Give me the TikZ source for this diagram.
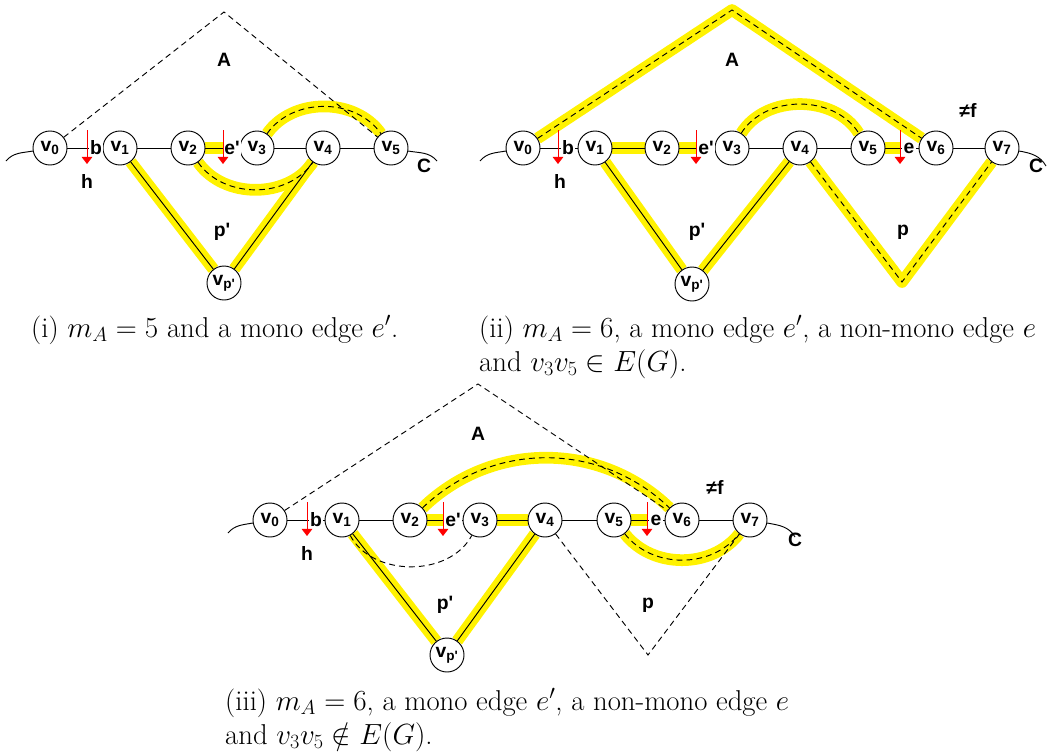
\documentclass[tikz,border=0pt]{standalone}
\usepackage{amsmath,amssymb}
\usepackage{fontspec}
\usepackage{tikz}
\newfontfamily\labfont{Liberation Sans}
\usetikzlibrary{arrows.meta, calc}
\pgfdeclarelayer{hilite}
\pgfdeclarelayer{edges}
\pgfsetlayers{hilite,edges,main}

\begin{document}
\begin{tikzpicture}[
  x=0.03cm, y=-0.03cm,
  vtx/.style={circle, draw, line width=0.8pt, fill=white, inner sep=0pt,
              minimum size=1.02cm, font={\labfont\fontsize{16.5}{19}\selectfont\bfseries}},
  lbl/.style={inner sep=1pt, font={\labfont\fontsize{16.5}{19}\selectfont\bfseries}},
  lblw/.style={lbl, fill=white},
  edge/.style={line width=0.8pt},
  dedge/.style={line width=0.8pt, dash pattern=on 5pt off 3.5pt},
  hl/.style={line width=10pt, yellow, line join=round},
  redarr/.style={red, line width=0.8pt, -{Triangle[width=9pt,length=6pt]}},
  captxt/.style={inner sep=0pt, anchor=base west, font={\fontsize{24.5}{29}\selectfont}}
]
  \useasboundingbox (0,0) rectangle (1047,755);

  % (i)
  \node[vtx] (a0) at (50,148)  {v\textsubscript{0}};
  \node[vtx] (a1) at (120,148) {v\textsubscript{1}};
  \node[vtx] (a2) at (188,148) {v\textsubscript{2}};
  \node[vtx] (a3) at (257,148) {v\textsubscript{3}};
  \node[vtx] (a4) at (323,148) {v\textsubscript{4}};
  \node[vtx] (a5) at (391,148) {v\textsubscript{5}};
  \node[vtx] (ap) at (224,283) {v\textsubscript{p'}};
  \coordinate (aA) at (224,12);
  \coordinate (ab) at (87,148);
  \coordinate (ae) at (223,148);
  \coordinate (aCl) at (6,161);
  \coordinate (aCr) at (437,161);
  \node[lbl] (aAl) at (224,60) {A};
  \node[lbl] (aCt) at (424,166) {C};
  \node[lbl] (ah) at (87,181) {h};
  \node[lbl] (app) at (222,232) {p'};

  \begin{pgfonlayer}{hilite}
    \draw[hl] (a2) -- (ae);
    \draw[hl] (a1) -- (ap) -- (a4);
    \draw[hl] (a2) to[bend right=55] (a4);
    \draw[hl] (a3) to[bend left=55] (a5);
  \end{pgfonlayer}
  \begin{pgfonlayer}{edges}
    \draw[edge] (a0) -- (a1) -- (a2) -- (a3) -- (a4) -- (a5);
    \draw[edge] (a1) -- (ap) -- (a4);
    \draw[edge] (aCl) to[out=50,in=190] (a0);
    \draw[edge] (a5) to[out=-10,in=130] (aCr);
    \draw[dedge] (a0) -- (aA) -- (a5);
    \draw[dedge] (a2) to[bend right=55] (a4);
    \draw[dedge] (a3) to[bend left=55] (a5);
  \end{pgfonlayer}
  \node[lblw] (abl) at (96,148) {b};
  \node[lblw] (ael) at (232,148) {e'};
  \draw[redarr] (ab) ++(0,-18) -- ++(0,34);
  \draw[redarr] (ae) ++(0,-18) -- ++(0,34);

  % (ii)
  \node[vtx] (b0) at (523,148)  {v\textsubscript{0}};
  \node[vtx] (b1) at (595,148)  {v\textsubscript{1}};
  \node[vtx] (b2) at (662,148)  {v\textsubscript{2}};
  \node[vtx] (b3) at (732,148)  {v\textsubscript{3}};
  \node[vtx] (b4) at (800,148)  {v\textsubscript{4}};
  \node[vtx] (b5) at (868,148)  {v\textsubscript{5}};
  \node[vtx] (b6) at (936,148)  {v\textsubscript{6}};
  \node[vtx] (b7) at (1002,148) {v\textsubscript{7}};
  \node[vtx] (bp) at (692,284)  {v\textsubscript{p'}};
  \coordinate (bA) at (732,10);
  \coordinate (bq) at (902,282);
  \coordinate (bb) at (558,148);
  \coordinate (be1) at (696,148);
  \coordinate (be) at (900,148);
  \coordinate (bCl) at (480,161);
  \coordinate (bCr) at (1046,166);
  \node[lbl] (bAl) at (732,60) {A};
  \node[lbl] (bCt) at (1036,166) {C};
  \node[lbl] (bh) at (560,181) {h};
  \node[lbl] (bpp) at (697,232) {p'};
  \node[lbl] (bpl) at (903,232) {p};
  \node[lbl] (bf) at (968,110) {≠f};

  \begin{pgfonlayer}{hilite}
    \draw[hl] (b1) -- (b2) -- (be1);
    \draw[hl] (b5) -- (be);
    \draw[hl] (b1) -- (bp) -- (b4);
    \draw[hl] (b4) -- (bq) -- (b7);
    \draw[hl] (b0) -- (bA) -- (b6);
    \draw[hl] (b3) to[bend left=58] (b5);
  \end{pgfonlayer}
  \begin{pgfonlayer}{edges}
    \draw[edge] (b0) -- (b1) -- (b2) -- (b3) -- (b4) -- (b5) -- (b6) -- (b7);
    \draw[edge] (b1) -- (bp) -- (b4);
    \draw[edge] (bCl) to[out=50,in=190] (b0);
    \draw[edge] (b7) to[out=-10,in=120] (bCr);
    \draw[dedge] (b0) -- (bA) -- (b6);
    \draw[dedge] (b4) -- (bq) -- (b7);
    \draw[dedge] (b3) to[bend left=58] (b5);
  \end{pgfonlayer}
  \node[lblw] (bbl) at (568,148) {b};
  \node[lblw] (bel1) at (706,148) {e'};
  \node[lblw] (bel) at (909,148) {e};
  \draw[redarr] (bb) ++(0,-18) -- ++(0,34);
  \draw[redarr] (be1) ++(0,-18) -- ++(0,34);
  \draw[redarr] (be) ++(0,-18) -- ++(0,34);

  % (iii)
  \node[vtx] (c0) at (270,520) {v\textsubscript{0}};
  \node[vtx] (c1) at (342,520) {v\textsubscript{1}};
  \node[vtx] (c2) at (410,520) {v\textsubscript{2}};
  \node[vtx] (c3) at (480,520) {v\textsubscript{3}};
  \node[vtx] (c4) at (545,520) {v\textsubscript{4}};
  \node[vtx] (c5) at (614,520) {v\textsubscript{5}};
  \node[vtx] (c6) at (682,520) {v\textsubscript{6}};
  \node[vtx] (c7) at (750,520) {v\textsubscript{7}};
  \node[vtx] (cp) at (447,655) {v\textsubscript{p'}};
  \coordinate (cA) at (478,384);
  \coordinate (cq) at (648,655);
  \coordinate (cb) at (307,520);
  \coordinate (ce1) at (443,520);
  \coordinate (ce) at (647,520);
  \coordinate (cCl) at (228,533);
  \coordinate (cCr) at (795,537);
  \node[lbl] (cAl) at (478,434) {A};
  \node[lbl] (cCt) at (795,540) {C};
  \node[lbl] (ch) at (307,553) {h};
  \node[lbl] (cpp) at (445,605) {p'};
  \node[lbl] (cpl) at (648,605) {p};
  \node[lbl] (cf) at (715,487) {≠f};

  \begin{pgfonlayer}{hilite}
    \draw[hl] (c2) -- (ce1);
    \draw[hl] (c3) -- (c4);
    \draw[hl] (c5) -- (ce);
    \draw[hl] (c1) -- (cp) -- (c4);
    \draw[hl] (c2) to[bend left=44] (c6);
    \draw[hl] (c5) to[bend right=52] (c7);
  \end{pgfonlayer}
  \begin{pgfonlayer}{edges}
    \draw[edge] (c0) -- (c1) -- (c2) -- (c3) -- (c4) -- (c5) -- (c6) -- (c7);
    \draw[edge] (c1) -- (cp) -- (c4);
    \draw[edge] (cCl) to[out=50,in=190] (c0);
    \draw[edge] (c7) to[out=-10,in=120] (cCr);
    \draw[dedge] (c0) -- (cA) -- (c6);
    \draw[dedge] (c4) -- (cq) -- (c7);
    \draw[dedge] (c2) to[bend left=44] (c6);
    \draw[dedge] (c5) to[bend right=52] (c7);
    \draw[dedge] (c1) to[bend right=62] (c3);
  \end{pgfonlayer}
  \node[lblw] (cbl) at (316,520) {b};
  \node[lblw] (cel1) at (453,520) {e'};
  \node[lblw] (cel) at (656,520) {e};
  \draw[redarr] (cb) ++(0,-18) -- ++(0,34);
  \draw[redarr] (ce1) ++(0,-18) -- ++(0,34);
  \draw[redarr] (ce) ++(0,-18) -- ++(0,34);

  % captions
  \node[captxt] (capi) at (31,337) {(i) $m_A = 5$ and a mono edge $e'$.};
  \node[captxt] (capiia) at (479,337) {(ii) $m_A = 6$, a mono edge $e'$, a non-mono edge $e$};
  \node[captxt] (capiib) at (479,371) {and $v_3v_5 \in E(G)$.};
  \node[captxt] (capiiia) at (225,710) {(iii) $m_A = 6$, a mono edge $e'$, a non-mono edge $e$};
  \node[captxt] (capiiib) at (225,744) {and $v_3v_5 \notin E(G)$.};
\end{tikzpicture}
\end{document}
